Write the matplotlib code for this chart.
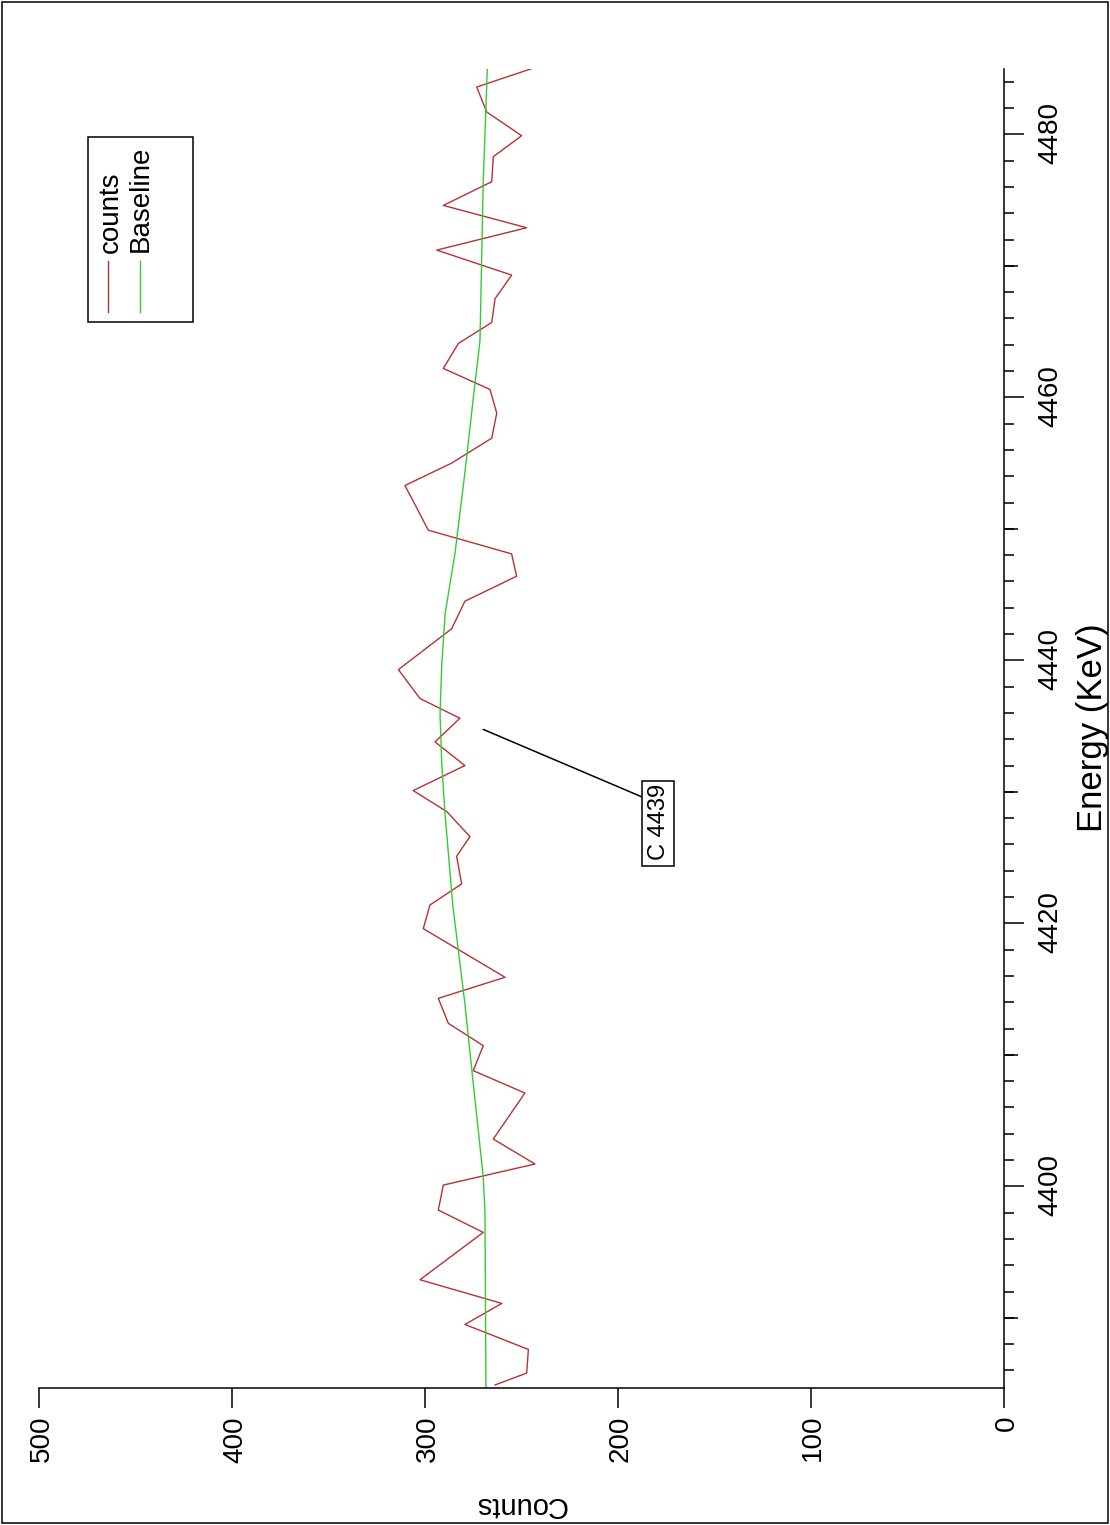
import numpy as np
import matplotlib
matplotlib.use('Agg')
import matplotlib.pyplot as plt
from matplotlib.patches import Rectangle
from matplotlib.ticker import MultipleLocator

plt.rcParams['font.family'] = ['Liberation Sans', 'DejaVu Sans']

# spectrum values (energy in keV, counts)
energy = [4384.9, 4385.8, 4387.6, 4389.5, 4391.1, 4392.9, 4396.5, 4398.2, 4400.1,
          4401.7, 4403.6, 4407.1, 4408.8, 4410.7, 4412.4, 4414.3, 4415.9, 4419.6,
          4421.4, 4423.0, 4425.1, 4426.6, 4428.5, 4430.1, 4432.0, 4433.8, 4435.6,
          4437.1, 4439.3, 4442.4, 4444.5, 4446.4, 4448.1, 4449.9, 4451.6, 4453.3,
          4455.0, 4456.9, 4458.8, 4460.6, 4462.2, 4464.1, 4465.7, 4467.5, 4469.3,
          4471.2, 4472.9, 4474.6, 4476.4, 4478.3, 4479.9, 4481.7, 4483.6, 4485.0]
counts = [263.6, 247.2, 246.3, 279.2, 260.1, 302.5, 269.7, 293.0, 290.4,
          242.9, 264.5, 248.1, 274.9, 269.7, 287.8, 293.0, 258.4, 300.8,
          297.3, 280.9, 283.5, 276.6, 288.6, 306.0, 279.2, 294.7, 281.8,
          302.5, 313.7, 286.1, 279.2, 252.4, 255.0, 298.2, 304.2, 310.3,
          286.1, 265.3, 262.7, 266.2, 290.4, 282.6, 265.3, 263.6, 255.0,
          293.8, 247.2, 290.4, 265.3, 264.5, 249.8, 267.9, 273.1, 244.6]

base_energy = [4384.6, 4398.0, 4400.7, 4408.0, 4414.0, 4421.4, 4428.3, 4432.1, 4435.9,
               4439.7, 4443.5, 4448.2, 4454.3, 4459.9, 4464.3, 4476.4, 4485.0]
baseline = [268.3, 268.8, 269.7, 275.0, 279.3, 285.5, 289.5, 291.2, 292.1,
            291.2, 289.5, 284.3, 279.2, 274.9, 271.4, 269.7, 267.6]

peak_label = 'C 4439'
peak_xy = (4434.75, 269.7)
peak_text_xy = (4427.6, 179.1)

# drawn in landscape, turned a quarter turn at the end
fig = plt.figure(figsize=(15.25, 11.10), dpi=100)
ax = fig.add_axes([0.0896, 0.0959, 0.8654, 0.869])

ax.plot(energy, counts, color='#b83232', lw=1.0, label='counts')
ax.plot(base_energy, baseline, color='#33cc33', lw=1.0, label='Baseline')

ax.set_xlim(4384.64, 4485.0)
ax.set_ylim(0, 500)
for s in ['top', 'right']:
    ax.spines[s].set_visible(False)
for s in ['left', 'bottom']:
    ax.spines[s].set_linewidth(1.1)

ax.xaxis.set_major_locator(MultipleLocator(20))
ax.xaxis.set_minor_locator(MultipleLocator(2))
ax.yaxis.set_major_locator(MultipleLocator(100))
ax.tick_params(axis='x', which='major', length=14.4, width=1.1, labelsize=20, pad=10)
ax.tick_params(axis='x', which='minor', length=7.2, width=1.1)
ax.tick_params(axis='y', which='major', length=14.4, width=1.1, labelsize=20, pad=7)

sec = ax.secondary_xaxis('bottom')
sec.set_xticks(np.arange(4390, 4485, 20))
sec.tick_params(length=10.1, width=1.1, labelbottom=False)
sec.spines['bottom'].set_visible(False)

ax.set_xlabel('Energy (KeV)', fontsize=25)
ax.xaxis.set_label_coords(0.5, -0.074)
ax.set_ylabel('Counts', fontsize=21)
ax.yaxis.set_label_coords(-0.080, 0.5)

ax.annotate(peak_label, xy=peak_xy, xytext=peak_text_xy, ha='center', va='center',
            fontsize=17,
            bbox=dict(boxstyle='square,pad=0.2', fc='white', ec='black', lw=1.1),
            arrowprops=dict(arrowstyle='-', color='black', lw=1.1,
                            relpos=(0.82, 1.0), shrinkA=0, shrinkB=0))

fig.legend(loc='upper left', bbox_to_anchor=(0.7946, 0.9120), frameon=False,
           fontsize=20, borderpad=0, borderaxespad=0, handlelength=1.86,
           handletextpad=0.24, labelspacing=0.2)
fig.patches.append(Rectangle((0.789, 0.8259), 0.1209, 0.0951, transform=fig.transFigure,
                             fill=False, ec='black', lw=1.1))
fig.patches.append(Rectangle((0.0015, 0.002), 0.997, 0.996, transform=fig.transFigure,
                             fill=False, ec='black', lw=1.1))

fig.canvas.draw()
img = np.asarray(fig.canvas.buffer_rgba())
plt.imsave('out.png', np.ascontiguousarray(np.rot90(img)))
